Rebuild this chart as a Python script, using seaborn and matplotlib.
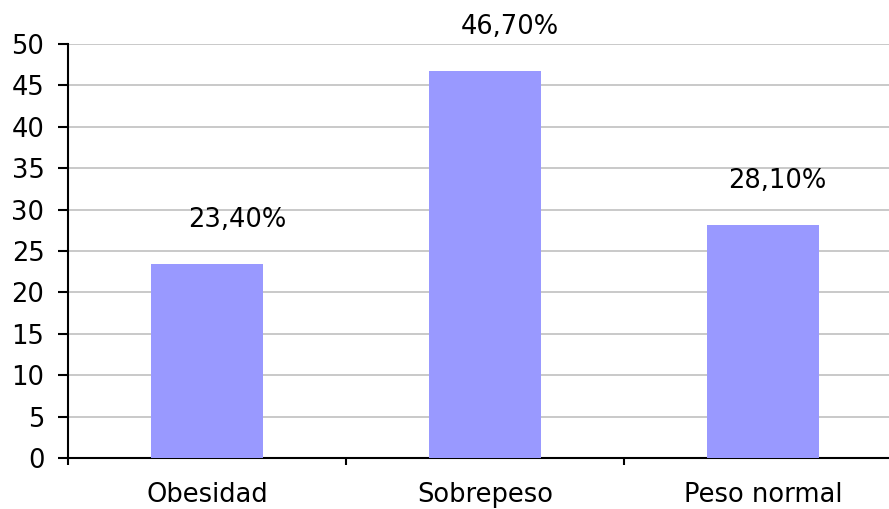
import matplotlib
matplotlib.use("Agg")
import matplotlib.pyplot as plt
import seaborn as sns
import pandas as pd

categories = ["Obesidad", "Sobrepeso", "Peso normal"]
values = [23.4, 46.7, 28.1]
value_labels = ["23,40%", "46,70%", "28,10%"]

df = pd.DataFrame({"categoria": categories, "valor": values})

sns.set_style("white")
plt.rcParams["font.family"] = ["DejaVu Sans"]
plt.rcParams["text.color"] = "black"
plt.rcParams["xtick.color"] = "black"
plt.rcParams["ytick.color"] = "black"

fig = plt.figure(figsize=(8.89, 5.09), dpi=100)
ax = fig.add_axes([68 / 889, 51 / 509, 834 / 889, 414 / 509])

sns.barplot(data=df, x="categoria", y="valor", color="#9999FF",
            saturation=1, width=0.4, ax=ax, zorder=3, linewidth=0,
            edgecolor="none")

ax.set_xlim(-0.5, 2.5)
ax.set_ylim(0, 50)
ax.set_yticks(range(0, 51, 5))
ax.yaxis.grid(True, color="#C0C0C0", linewidth=1.2, zorder=0)
ax.set_axisbelow(True)
ax.set_xlabel("")
ax.set_ylabel("")

for side in ["top", "right"]:
    ax.spines[side].set_visible(False)
for side in ["left", "bottom"]:
    ax.spines[side].set_color("black")
    ax.spines[side].set_linewidth(1.5)

fs = 18.5
ax.tick_params(axis="y", labelsize=fs, length=7, width=1.5, pad=10,
               direction="out", left=True, labelcolor="black")
ax.tick_params(axis="x", which="major", labelsize=fs, length=0, pad=17,
               labelcolor="black")
ax.set_xticks([-0.5, 0.5, 1.5, 2.5], minor=True)
ax.tick_params(axis="x", which="minor", length=5, width=1.5, direction="out",
               bottom=True)

# Excel-style data labels sit a little right of each bar centre
label_dx = [22, 18, 10]
for i, (v, txt) in enumerate(zip(values, value_labels)):
    ax.annotate(txt, xy=(i, v), xytext=(label_dx[i], 27),
                textcoords="offset points", ha="center", va="baseline",
                fontsize=fs, color="black", annotation_clip=False)

fig.savefig("out.png", dpi=100)
